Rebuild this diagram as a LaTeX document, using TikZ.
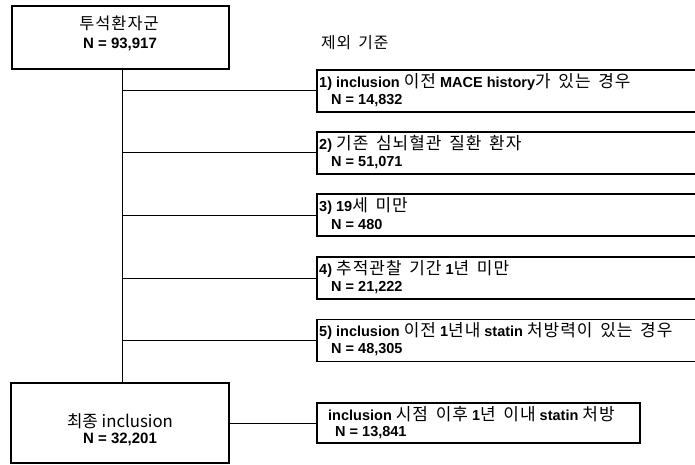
\documentclass[tikz,border=0pt]{standalone}
\usepackage{fontspec}
\setmainfont{Liberation Sans}
\newfontfamily\krfont{Noto Sans CJK KR}[Scale=1.17, LetterSpace=6, WordSpace=1.6]
\newfontfamily\krplain{Noto Sans CJK KR}[Scale=1.05]
\newcommand\kr[1]{{\krfont\mdseries #1}}
\begin{document}
\begin{tikzpicture}[x=1pt,y=-1pt,
  bigbox/.style={draw, line width=1.4pt, inner sep=0pt, rectangle},
  exbox/.style={draw, line width=1.2pt, inner sep=0pt, rectangle, minimum width=393pt, minimum height=42pt},
  conn/.style={draw, line width=1pt},
  lbl/.style={anchor=west, inner sep=0pt, font=\fontsize{14.5}{16}\selectfont\bfseries},
  num/.style={anchor=west, inner sep=0pt, font=\fontsize{14.5}{16}\selectfont\bfseries},
  ctr/.style={inner sep=0pt, font=\fontsize{15}{16}\selectfont\bfseries}]
\clip (0,0) rectangle (695,465);
\fill[white] (0,0) rectangle (695,465);

% main boxes
\node[bigbox, minimum width=217pt, minimum height=63pt] (top) at (120.5,37.5) {};
\node[inner sep=0pt, font=\fontsize{14}{16}\selectfont] (toptxt) at (119,23) {\kr{투석환자군}};
\node[ctr] (topn) at (120,44) {N = 93,917};

\node[bigbox, minimum width=218pt, minimum height=80pt] (final) at (120,423) {};
\node[inner sep=0pt, font=\fontsize{16}{17}\selectfont] (fintxt) at (120,421) {{\krplain 최종 inclusion}};
\node[ctr] (finn) at (120,439) {N = 32,201};

\node[anchor=west, inner sep=0pt, font=\fontsize{13.5}{15}\selectfont] (crit) at (321,43) {\kr{제외 기준}};

% exclusion boxes
\node[exbox] (b1) at (513.5,91) {};
\node[exbox] (b2) at (513.5,153) {};
\node[exbox] (b3) at (513.5,215) {};
\node[exbox] (b4) at (513.5,278) {};
\node[exbox] (b5) at (513.5,340.5) {};

\node[lbl] (t1) at (319,82) {1) inclusion \kr{이전} MACE history\kr{가 있는 경우}};
\node[num] (n1) at (331,101) {N = 14,832};
\node[lbl] (t2) at (319,144) {2) \kr{기존 심뇌혈관 질환 환자}};
\node[num] (n2) at (331,163) {N = 51,071};
\node[lbl] (t3) at (319,206) {3) 19\kr{세 미만}};
\node[num] (n3) at (331,225) {N = 480};
\node[lbl] (t4) at (319,269) {4) \kr{추적관찰 기간} 1\kr{년 미만}};
\node[num] (n4) at (331,288) {N = 21,222};
\node[lbl] (t5) at (319,331) {5) inclusion \kr{이전} 1\kr{년내} statin \kr{처방력이 있는 경우}};
\node[num] (n5) at (331,350) {N = 48,305};

% statin box
\node[exbox, minimum width=323pt, minimum height=40pt] (st) at (478.5,423) {};
\node[lbl] (stt) at (328,414) {inclusion \kr{시점 이후} 1\kr{년 이내} statin \kr{처방}};
\node[num] (stn) at (335,433) {N = 13,841};

% connectors
\coordinate (j1) at (122,91);
\coordinate (j2) at (122,153);
\coordinate (j3) at (122,215);
\coordinate (j4) at (122,278);
\coordinate (j5) at (122,340.5);
\draw[conn] (top.south -| j1) -- (final.north -| j1);
\draw[conn] (j1) -- (b1.west);
\draw[conn] (j2) -- (b2.west);
\draw[conn] (j3) -- (b3.west);
\draw[conn] (j4) -- (b4.west);
\draw[conn] (j5) -- (b5.west);
\draw[conn] (final.east) -- (st.west);
\end{tikzpicture}
\end{document}
